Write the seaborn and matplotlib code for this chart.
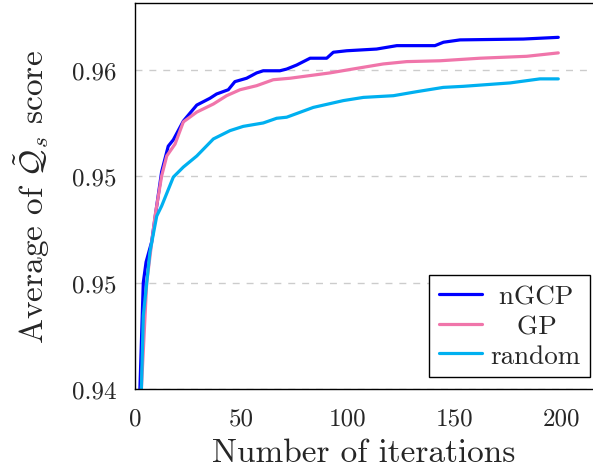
import matplotlib
matplotlib.use("Agg")
import matplotlib.pyplot as plt
import seaborn as sns
import pandas as pd

# Data (iteration, average score)
ngcp_x = [2.3, 3.9, 5.2, 7.8, 10.2, 12.5, 15.6, 18, 22.7, 29, 35.2, 38.3, 43.8, 46.9, 52.4, 57.1, 60.2, 68, 71.2, 75.9, 82.2, 90, 93.1, 99.4, 113.4, 122.9, 140.8, 144.8, 152.6, 182.3, 198.7]
ngcp_y = [0.9400, 0.9450, 0.94596, 0.9469, 0.9486, 0.9502, 0.9514, 0.9517, 0.95258, 0.95333, 0.95365, 0.95385, 0.95405, 0.95443, 0.95459, 0.95484, 0.95494, 0.95494, 0.95502, 0.95521, 0.95553, 0.95553, 0.95581, 0.95588, 0.95596, 0.95612, 0.95612, 0.95628, 0.95639, 0.95643, 0.95651]

gp_x = [3.0, 5.5, 9.4, 12.5, 14.9, 18.8, 22.7, 29, 36.8, 43, 49.3, 57.1, 64.9, 72.8, 91.5, 100.9, 116.5, 127.5, 143.2, 162, 183.9, 198.7]
gp_y = [0.9400, 0.9450, 0.94812, 0.9500, 0.95094, 0.9515, 0.95254, 0.9530, 0.95338, 0.95377, 0.95405, 0.95424, 0.95452, 0.95459, 0.95484, 0.9550, 0.95526, 0.95537, 0.95541, 0.95553, 0.95562, 0.95578]

rand_x = [3.0, 3.9, 7, 10.2, 12.5, 18, 22.7, 29, 36.8, 44.6, 50.8, 60.2, 66.5, 71.2, 83.7, 97.8, 107.2, 121.3, 132.3, 144.7, 154.1, 176.1, 190.1, 198.7]
rand_y = [0.9400, 0.94344, 0.94643, 0.94812, 0.94859, 0.94995, 0.95042, 0.95094, 0.95174, 0.95213, 0.95233, 0.95249, 0.95271, 0.95276, 0.95322, 0.95354, 0.95369, 0.95377, 0.95396, 0.95416, 0.95421, 0.95437, 0.95456, 0.95456]

methods = ["nGCP", "GP", "random"]
colors = {"nGCP": "#0000ff", "GP": "#f075aa", "random": "#00b0f0"}

x_ticks = [0, 50, 100, 150, 200]
y_ticks = [0.94, 0.945, 0.95, 0.955]
y_tick_labels = ["0.94", "0.95", "0.95", "0.96"]

df = pd.concat([
    pd.DataFrame({"iter": ngcp_x, "score": ngcp_y, "method": "nGCP"}),
    pd.DataFrame({"iter": gp_x, "score": gp_y, "method": "GP"}),
    pd.DataFrame({"iter": rand_x, "score": rand_y, "method": "random"}),
])

sns.set_style("white")
plt.rcParams["font.family"] = ["cmr10", "DejaVu Serif"]
plt.rcParams["mathtext.fontset"] = "cm"
plt.rcParams["axes.formatter.use_mathtext"] = True

fig = plt.figure(figsize=(5.93, 4.77), dpi=100)
ax = fig.add_axes([135 / 593, (477 - 390) / 477, (593 - 135) / 593, (390 - 4) / 477])

sns.lineplot(data=df, x="iter", y="score", hue="method", hue_order=methods,
             palette=colors, linewidth=2.3, ax=ax, sort=False, estimator=None)

ax.set_xlim(0, 215)
ax.set_ylim(0.94, 0.94 + 386 * 0.005 / 106.5)
ax.set_xticks(x_ticks)
ax.set_xticklabels([str(t) for t in x_ticks])
ax.set_yticks(y_ticks)
ax.set_yticklabels(y_tick_labels)
ax.tick_params(axis="both", direction="out", length=6, width=1, color="#aaaaaa",
               labelsize=18, pad=7)
ax.grid(axis="y", linestyle=(0, (5, 5)), color="#cccccc", linewidth=1)
ax.grid(axis="x", visible=False)
for s in ["left", "bottom", "top"]:
    ax.spines[s].set_color("black")
    ax.spines[s].set_linewidth(1)
ax.spines["right"].set_visible(False)

ax.set_xlabel("Number of iterations", fontsize=24, labelpad=6)
ax.set_ylabel(r"Average of $\tilde{\mathcal{Q}}_s$ score", fontsize=24, labelpad=15)

handles, labels = ax.get_legend_handles_labels()
pad_labels = {"nGCP": " nGCP", "GP": "   GP", "random": "random"}
leg = ax.legend(handles, [pad_labels[l] for l in labels],
                loc="lower right", bbox_to_anchor=((590 - 135) / 458, (390 - 378) / 386),
                borderaxespad=0, fontsize=19.5, frameon=True, fancybox=False,
                framealpha=1, edgecolor="black", handlelength=1.6, labelspacing=0.2,
                borderpad=0.35, handletextpad=0.3)
leg.get_frame().set_linewidth(1)
for line in leg.get_lines():
    line.set_linewidth(2.3)

fig.savefig("out.png", dpi=100)
